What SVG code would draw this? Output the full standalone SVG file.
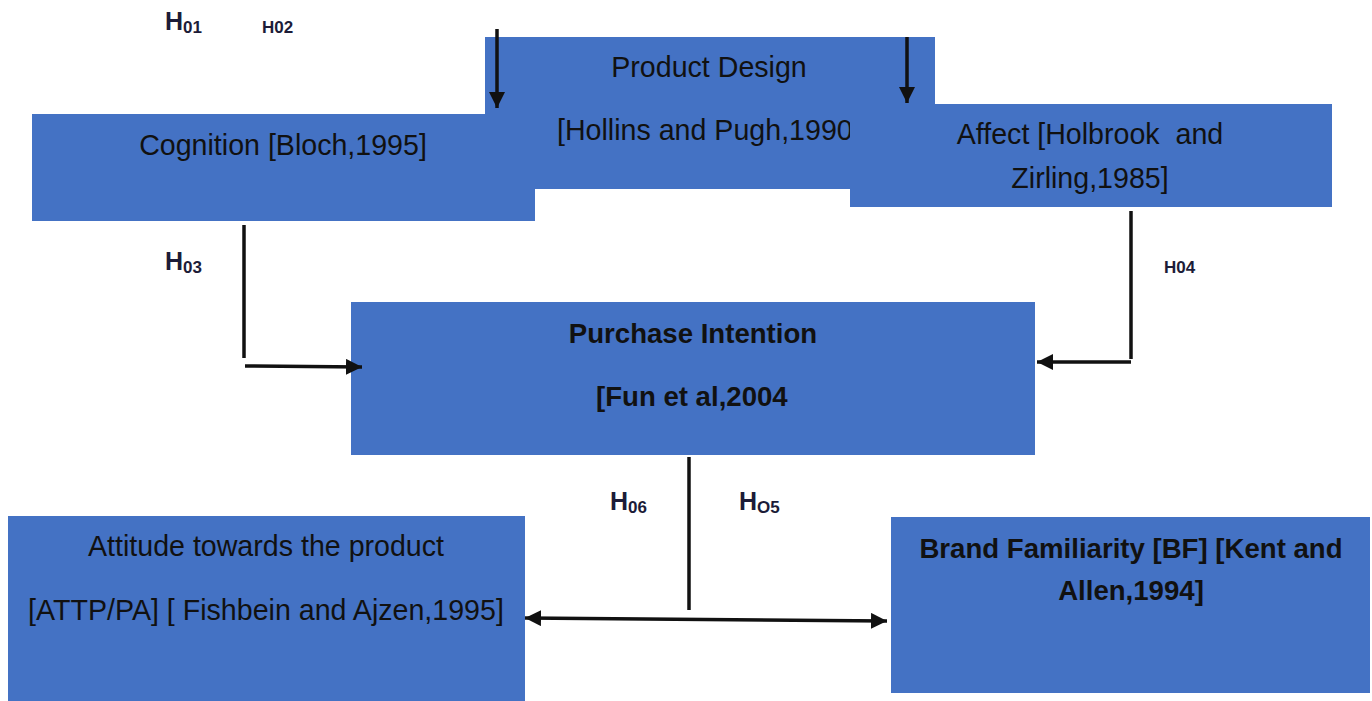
<svg xmlns="http://www.w3.org/2000/svg" width="1372" height="701" viewBox="0 0 1372 701">
<style>
.box{fill:#4472C4}
.t{font-family:"Liberation Sans",Arial,sans-serif;font-size:28.6px;fill:#111111;white-space:pre}
.tb{font-family:"Liberation Sans",Arial,sans-serif;font-size:27.6px;font-weight:bold;fill:#111111}
.lb{font-family:"Liberation Sans",Arial,sans-serif;font-weight:bold;fill:#1c1c38}
.c{stroke:#111111;stroke-width:3.5;fill:none}
</style>
<defs>
<marker id="ah" markerUnits="userSpaceOnUse" markerWidth="18" markerHeight="16" refX="16" refY="8" orient="auto-start-reverse">
<path d="M0,0 L16,8 L0,16 Z" fill="#111111"/>
</marker>
</defs>
<rect width="1372" height="701" fill="#ffffff"/>
<g id="product-design">
<rect class="box" x="485" y="37" width="450" height="152"/>
<text class="t" x="709" y="77" text-anchor="middle">Product Design</text>
<text class="t" x="557" y="140">[Hollins and Pugh,1990</text>
</g>
<g id="cognition">
<rect class="box" x="32" y="114" width="503" height="107"/>
<text class="t" x="283" y="155" text-anchor="middle">Cognition [Bloch,1995]</text>
</g>
<g id="affect">
<rect class="box" x="850" y="104" width="482" height="103"/>
<text class="t" x="1090" y="144" text-anchor="middle" xml:space="preserve">Affect [Holbrook  and</text>
<text class="t" x="1090" y="188" text-anchor="middle">Zirling,1985]</text>
</g>
<g id="purchase-intention">
<rect class="box" x="351" y="302" width="684" height="153"/>
<text class="tb" x="693" y="343" text-anchor="middle">Purchase Intention</text>
<text class="tb" x="596" y="406">[Fun et al,2004</text>
</g>
<g id="attitude">
<rect class="box" x="8" y="516" width="517" height="185"/>
<text class="t" x="266" y="556" text-anchor="middle">Attitude towards the product</text>
<text class="t" x="266" y="620" text-anchor="middle">[ATTP/PA] [ Fishbein and Ajzen,1995]</text>
</g>
<g id="brand-familiarity">
<rect class="box" x="891" y="517" width="479" height="176"/>
<text class="tb" x="1131" y="558" text-anchor="middle">Brand Familiarity [BF] [Kent and</text>
<text class="tb" x="1131" y="600" text-anchor="middle">Allen,1994]</text>
</g>
<g id="connectors">
<line class="c" x1="497" y1="29" x2="497" y2="108" marker-end="url(#ah)"/>
<line class="c" x1="907" y1="37" x2="907" y2="103" marker-end="url(#ah)"/>
<line class="c" x1="244" y1="225" x2="244" y2="358"/>
<line class="c" x1="245" y1="366" x2="362" y2="367" marker-end="url(#ah)"/>
<line class="c" x1="1131" y1="211" x2="1131" y2="359"/>
<line class="c" x1="1131" y1="362" x2="1037" y2="362" marker-end="url(#ah)"/>
<line class="c" x1="689" y1="457" x2="689" y2="610"/>
<line class="c" x1="525" y1="618" x2="887" y2="621" marker-start="url(#ah)" marker-end="url(#ah)"/>
</g>
<g id="labels">
<text class="lb" x="165" y="30" font-size="25">H<tspan font-size="17" dy="3">01</tspan></text>
<text class="lb" x="262" y="33" font-size="17">H02</text>
<text class="lb" x="165" y="270" font-size="25">H<tspan font-size="17" dy="3">03</tspan></text>
<text class="lb" x="1164" y="273" font-size="17">H04</text>
<text class="lb" x="610" y="510" font-size="25">H<tspan font-size="17" dy="3">06</tspan></text>
<text class="lb" x="739" y="510" font-size="25">H<tspan font-size="17" dy="3">O5</tspan></text>
</g>
</svg>
